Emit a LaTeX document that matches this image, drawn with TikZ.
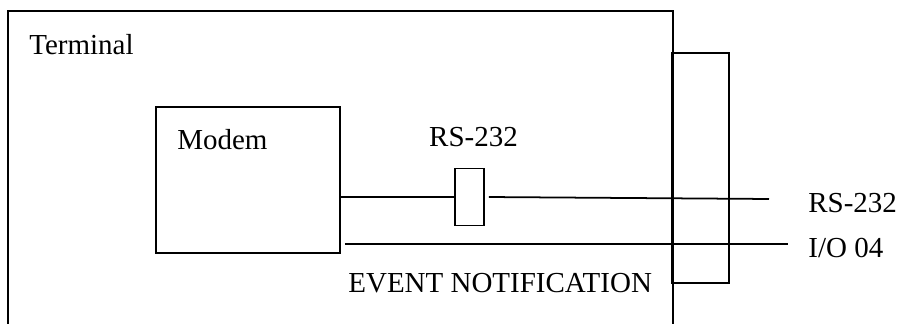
\documentclass[tikz,border=0pt]{standalone}
\usepackage{fontspec}
\setmainfont{Liberation Serif}
\usetikzlibrary{positioning, calc}

\begin{document}
\begin{tikzpicture}[
    box/.style={rectangle, draw, line width=1pt, inner sep=0pt},
    lbl/.style={anchor=base west, inner sep=0pt, font=\fontsize{16.5}{20}\selectfont},
    wire/.style={line width=1pt}
]
\useasboundingbox (0,0) rectangle (17.94,6.48);
\node[box, minimum width=13.3cm, minimum height=7.26cm] (term) at (6.81,2.63) {};
\node[box, minimum width=1.14cm, minimum height=4.6cm] (conn) at (14.01,3.12) {};
\node[box, minimum width=3.68cm, minimum height=2.92cm] (modem) at (4.96,2.88) {};
\node[box, minimum width=0.58cm, minimum height=1.14cm] (sbox) at (9.39,2.54) {};
\node[lbl] (tlbl) at (0.58,5.38) {Terminal};
\node[lbl] (mlbl) at (3.54,3.48) {Modem};
\node[lbl, anchor=base] (slbl) at (9.47,3.54) {RS-232};
\node[lbl] (rlbl) at (16.16,2.22) {RS-232};
\node[lbl] (iolbl) at (16.16,1.32) {I/O 04};
\node[lbl] (elbl) at (6.96,0.62) {EVENT NOTIFICATION};
\coordinate (rsend) at (15.38,2.50);
\coordinate (ioend) at (15.76,1.60);

\draw[wire] (modem.east |- sbox) -- (sbox.west);
\draw[wire, shorten <=0.08cm] (sbox.east) -- (rsend);
\draw[wire, shorten <=0.08cm] (modem.east |- ioend) -- (ioend);
\end{tikzpicture}
\end{document}
